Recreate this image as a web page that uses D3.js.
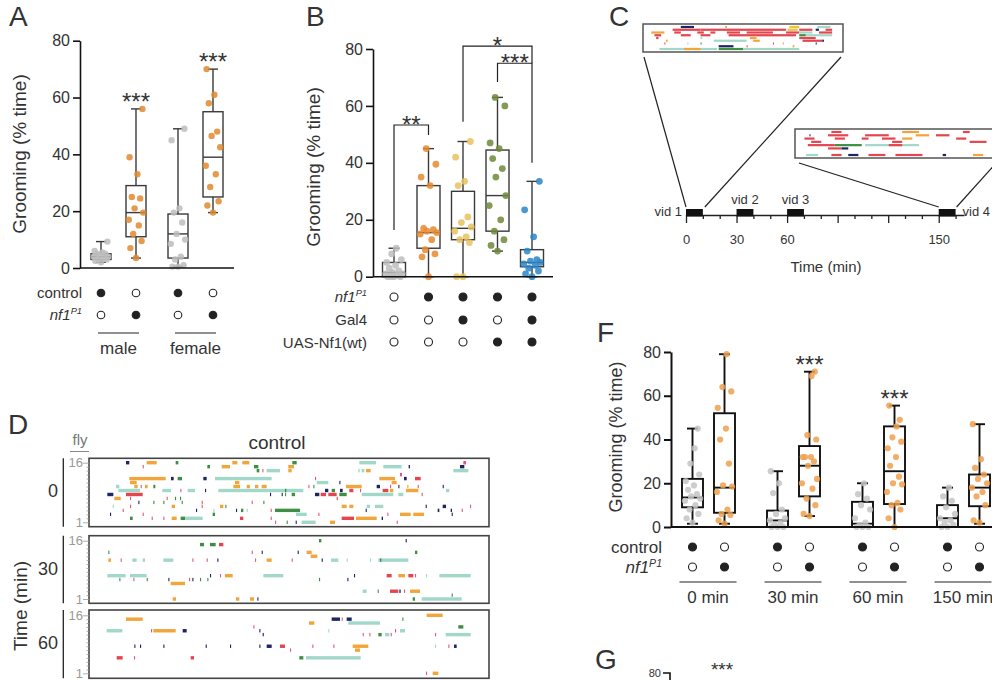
<!DOCTYPE html>
<html>
<head>
<meta charset="utf-8">
<script src="https://cdn.jsdelivr.net/npm/d3@7"></script>
<style>
  body { margin: 0; background: #fff; }
  svg { display: block; }
</style>
</head>
<body>
<svg id="fig" width="992" height="680"></svg>
<script>
// ---------- data ----------
const yTicks = [0, 20, 40, 60, 80]

// Panel A: [min, q1, median, q3, max]
const aGroups = ['male', 'female']
const aBoxes = [[2, 3, 4, 5, 9.3], [3.5, 11, 19.5, 29, 56], [0.5, 3.5, 12, 19, 49], [19.5, 25, 39, 55, 70]]
const aPoints = [
  [2, 2.5, 3, 3, 3.5, 4, 4, 4.5, 5, 5, 5.5, 6, 9.3],
  [3.5, 7, 9.5, 12, 15, 17, 19.5, 21, 24.5, 25, 33, 39, 56],
  [0.5, 0.5, 1, 3, 4, 8.5, 10, 12, 16, 19.5, 21, 45, 49],
  [19.5, 22, 23.5, 28.5, 33, 36, 42.5, 46.5, 48, 58, 61, 70]
]
const aControl = [1, 0, 1, 0]
const aNf1 = [0, 1, 0, 1]
const aStars = ['', '***', '', '***']

// Panel B
const bBoxes = [[0, 0, 1.5, 5, 10], [0, 10, 15.5, 32, 45], [0, 13, 17, 30, 47.5], [9, 16, 28.5, 44.5, 63], [0, 3.5, 5, 9.5, 33.5]]
const bPoints = [
  [0, 0, 0, 0, 0.5, 1, 1, 1.5, 2, 3, 4, 5, 6, 8, 10],
  [0, 7, 8, 9.5, 13, 15, 15.5, 16, 16.5, 17, 32, 35, 39.5, 45],
  [0, 0, 12, 13, 14, 16, 17.5, 19, 21, 32, 33.5, 42, 47.5],
  [9, 11, 13, 16, 20, 25, 28.5, 35, 38, 41.5, 45, 47, 60, 63],
  [0, 1, 2, 3, 4, 4.5, 5, 5.5, 6, 9, 14, 23.5, 33.5]
]
const bNf1 = [0, 1, 1, 1, 1]
const bGal4 = [0, 0, 1, 0, 1]
const bUas = [0, 0, 0, 1, 1]
// brackets: from box a to box b, top level, leg ends, label
const bSig = [
  { a: 0, b: 1, top: 53.3, ya: 16.4, yb: 49.8, label: '**' },
  { a: 2, b: 4, top: 81, ya: 54.4, yb: 75, label: '*' },
  { a: 3, b: 4, top: 75, ya: 68.4, yb: 40, label: '***' }
]

// Panel C: video windows (min)
const cVideos = [['vid 1', 0, 10], ['vid 2', 30, 40], ['vid 3', 60, 70], ['vid 4', 150, 160]]
const cTicks = d3.range(0, 170, 10)
const cMajor = [0, 30, 60, 90, 120, 150]
const cLabels = [0, 30, 60, 150]
// inset rasters: [row, start, end, behaviour]
const cInset1 = [
  [9, 112, 152, 'n'], [9, 247, 252, 'o'], [9, 442, 472, 'y'], [9, 527, 567, 't'],
  [8, 87, 172, 'r'], [8, 172, 432, 'r'], [8, 437, 467, 'y'], [8, 472, 512, 'r'], [8, 522, 532, 'n'], [8, 552, 572, 'r'],
  [7, 22, 62, 'o'], [7, 92, 112, 'r'], [7, 162, 182, 'r'], [7, 202, 217, 'r'], [7, 252, 292, 'r'], [7, 312, 392, 'r'], [7, 432, 472, 'r'], [7, 472, 512, 't'], [7, 532, 572, 'r'],
  [6, 32, 52, 'r'], [6, 112, 142, 'r'], [6, 172, 202, 'r'], [6, 257, 462, 'r'], [6, 472, 492, 'g'], [6, 492, 572, 't'],
  [5, 37, 44, 'r'], [5, 172, 177, 't'], [5, 322, 342, 'o'], [5, 472, 522, 'r'],
  [4, 67, 72, 'o'], [4, 212, 312, 't'], [4, 332, 352, 'o'], [4, 482, 542, 'r'], [4, 542, 547, 'n'],
  [3, 62, 65, 'r'], [3, 132, 135, 't'], [3, 172, 175, 'g'], [3, 392, 395, 'r'], [3, 422, 425, 'o'], [3, 522, 525, 'n'],
  [2, 227, 272, 'n'], [2, 312, 315, 'r'], [2, 452, 457, 'o'],
  [1, 47, 222, 't'], [1, 122, 172, 'o'], [1, 227, 302, 'g'], [1, 302, 472, 't']
]
const cInset2 = [
  [8, 105, 135, 'r'], [8, 315, 365, 'o'], [8, 495, 515, 'r'],
  [7, 40, 43, 'n'], [7, 95, 155, 'r'], [7, 205, 275, 'r'], [7, 355, 395, 'o'], [7, 415, 455, 'r'],
  [6, 25, 55, 'r'], [6, 115, 145, 'r'], [6, 195, 215, 'r'], [6, 255, 295, 'r'], [6, 315, 345, 'o'], [6, 475, 505, 'r'],
  [5, 45, 75, 'r'], [5, 285, 315, 'r'], [5, 515, 565, 'r'],
  [4, 35, 115, 'r'], [4, 115, 195, 'g'], [4, 205, 365, 't'], [4, 275, 315, 'r'],
  [3, 95, 135, 'r'], [3, 135, 155, 'n'],
  [1, 30, 65, 't'], [1, 105, 135, 'r'], [1, 155, 185, 'n'], [1, 215, 265, 'r'], [1, 295, 375, 'r'], [1, 435, 445, 'n'], [1, 525, 555, 'o']
]

// Panel D: ethograms, 16 flies, [fly, start, end, behaviour]
const dTimes = ['0', '30', '60']
const dSeg0 = [
  [16, 111, 121, 'n'], [16, 173, 203, 'o'], [16, 260, 268, 'g'], [16, 430, 445, 'o'], [16, 460, 481, 'o'], [16, 610, 623, 'g'], [16, 811, 861, 't'], [16, 1123, 1131, 'p'],
  [15, 161, 164, 'p'], [15, 355, 363, 'g'], [15, 398, 423, 'o'], [15, 495, 508, 'g'], [15, 598, 615, 'o'], [15, 883, 938, 't'], [15, 959, 963, 'n'], [15, 1113, 1126, 'n'],
  [14, 503, 511, 'g'], [14, 520, 522, 'p'], [14, 533, 573, 't'], [14, 598, 608, 'o'], [14, 808, 812, 't'], [14, 818, 826, 't'], [14, 831, 845, 'o'], [14, 1093, 1138, 't'],
  [13, 933, 939, 'p'],
  [12, 121, 230, 'o'], [12, 246, 254, 'n'], [12, 266, 279, 'g'], [12, 343, 353, 'n'], [12, 378, 548, 't'], [12, 678, 681, 'p'], [12, 871, 918, 'o'], [12, 945, 953, 'n'], [12, 978, 995, 'r'],
  [11, 123, 143, 'o'], [11, 438, 451, 'o'], [11, 683, 718, 't'], [11, 751, 754, 'n'], [11, 908, 923, 'o'],
  [10, 81, 91, 't'], [10, 136, 146, 'o'], [10, 155, 158, 'p'], [10, 168, 176, 'o'], [10, 193, 199, 'g'], [10, 433, 453, 'o'], [10, 473, 483, 'o'], [10, 498, 508, 'o'], [10, 518, 533, 'o'],
  [10, 658, 661, 'p'], [10, 673, 676, 'g'], [10, 771, 818, 'o'], [10, 863, 873, 'n'], [10, 903, 906, 'p'], [10, 928, 931, 'n'], [10, 955, 958, 'o'], [10, 986, 989, 'p'], [10, 1061, 1064, 'n'],
  [9, 88, 153, 't'], [9, 220, 246, 't'], [9, 274, 277, 'p'], [9, 296, 318, 't'], [9, 348, 351, 'n'], [9, 388, 643, 't'], [9, 588, 592, 'g'], [9, 708, 718, 'n'], [9, 728, 738, 'g'],
  [9, 753, 761, 'n'], [9, 781, 793, 'r'], [9, 813, 816, 'p'], [9, 881, 898, 'r'], [9, 903, 913, 'o'], [9, 951, 988, 'o'], [9, 1071, 1081, 't'],
  [8, 55, 73, 'n'], [8, 111, 161, 'r'], [8, 543, 546, 'n'], [8, 578, 581, 'n'], [8, 588, 591, 'g'], [8, 608, 618, 'g'], [8, 678, 691, 'n'], [8, 695, 711, 'r'], [8, 718, 743, 'r'],
  [8, 751, 773, 'g'], [8, 818, 913, 't'], [8, 928, 943, 't'], [8, 998, 1001, 'p'],
  [7, 76, 95, 'o'], [7, 123, 126, 'p'], [7, 233, 236, 'p'], [7, 258, 261, 'g'], [7, 273, 276, 'g'], [7, 743, 746, 'r'],
  [6, 148, 151, 'n'], [6, 193, 196, 'g'], [6, 223, 226, 'g'], [6, 278, 281, 'g'], [6, 338, 341, 'p'], [6, 488, 491, 'p'], [6, 523, 526, 'g'],
  [5, 71, 74, 't'], [5, 123, 126, 'p'], [5, 248, 258, 'o'], [5, 338, 341, 'p'], [5, 393, 403, 'o'], [5, 409, 412, 'g'], [5, 758, 773, 'o'], [5, 781, 793, 'o'],
  [5, 833, 843, 't'], [5, 858, 883, 't'], [5, 1010, 1013, 'n'], [5, 1061, 1071, 'n'], [5, 1143, 1146, 'p'],
  [4, 101, 104, 'p'], [4, 321, 324, 'n'], [4, 373, 376, 't'], [4, 441, 444, 'n'], [4, 456, 463, 'g'], [4, 473, 476, 't'], [4, 545, 548, 'p'], [4, 558, 633, 'g'],
  [4, 830, 833, 'n'], [4, 1046, 1051, 'n'], [4, 1085, 1089, 'n'], [4, 1118, 1121, 'p'],
  [3, 63, 66, 'n'], [3, 161, 164, 'p'], [3, 371, 378, 'g'], [3, 621, 653, 't'], [3, 688, 691, 'p'], [3, 895, 898, 'p'], [3, 933, 965, 'o'], [3, 973, 1005, 'o'], [3, 1088, 1091, 'n'],
  [2, 123, 131, 'g'], [2, 188, 191, 'p'], [2, 223, 226, 'p'], [2, 248, 263, 'o'], [2, 275, 289, 'g'], [2, 289, 341, 't'], [2, 453, 463, 'r'], [2, 545, 548, 'p'],
  [2, 758, 795, 'r'], [2, 801, 863, 'o'], [2, 878, 882, 'n'],
  [1, 558, 561, 'p'], [1, 593, 596, 'g'], [1, 620, 623, 'n'], [1, 638, 680, 't'], [1, 723, 738, 'o'], [1, 923, 926, 'p']
]
const dSeg30 = [
  [16, 690, 697, 'g'], [16, 950, 953, 'n'],
  [15, 333, 345, 'g'], [15, 363, 380, 'g'], [15, 390, 403, 'r'],
  [13, 58, 61, 'g'], [13, 488, 491, 'p'], [13, 518, 521, 'n'], [13, 626, 629, 'n'], [13, 653, 668, 'o'], [13, 978, 985, 'g'],
  [12, 665, 685, 'o'],
  [11, 58, 66, 'o'], [11, 95, 98, 'p'], [11, 130, 143, 't'], [11, 161, 168, 't'], [11, 223, 253, 't'], [11, 310, 313, 'p'], [11, 353, 356, 'p'], [11, 385, 388, 'n'],
  [11, 498, 501, 'p'], [11, 533, 548, 'o'], [11, 608, 611, 'p'], [11, 698, 701, 'n'], [11, 726, 748, 't'], [11, 773, 776, 't'], [11, 843, 846, 't'], [11, 868, 958, 't'], [11, 873, 877, 'g'],
  [7, 55, 110, 't'], [7, 123, 173, 't'], [7, 363, 366, 'n'], [7, 393, 396, 'p'], [7, 408, 431, 'o'], [7, 523, 583, 't'], [7, 795, 798, 'n'], [7, 893, 908, 'r'],
  [7, 928, 948, 'o'], [7, 958, 973, 'r'], [7, 978, 981, 'p'], [7, 1011, 1014, 't'], [7, 1051, 1145, 't'],
  [6, 91, 94, 'g'], [6, 133, 136, 'p'], [6, 173, 176, 'g'], [6, 238, 241, 'n'], [6, 300, 303, 'p'], [6, 310, 313, 'n'], [6, 333, 336, 'g'], [6, 355, 358, 'g'], [6, 690, 693, 'g'], [6, 775, 778, 'n'],
  [5, 245, 288, 'o'],
  [3, 821, 833, 't'], [3, 866, 869, 'g'], [3, 903, 928, 'r'], [3, 931, 935, 'n'], [3, 945, 948, 'p'], [3, 963, 993, 'o'],
  [2, 1088, 1091, 'g'],
  [1, 251, 261, 'o'], [1, 441, 451, 'o'], [1, 483, 495, 'o'], [1, 505, 508, 'n'], [1, 971, 978, 'g'], [1, 998, 1118, 't']
]
const dSeg60 = [
  [16, 1013, 1061, 'o'],
  [15, 111, 161, 'o'], [15, 728, 753, 'n'], [15, 758, 761, 'p'], [15, 773, 788, 'n'], [15, 940, 943, 'g'],
  [14, 660, 676, 'o'], [14, 778, 873, 't'],
  [13, 493, 496, 'p'], [13, 1108, 1123, 'g'],
  [12, 53, 100, 't'], [12, 186, 189, 'p'], [12, 193, 260, 'o'], [12, 281, 293, 'n'], [12, 511, 514, 'n'], [12, 718, 721, 't'], [12, 918, 921, 'p'], [12, 933, 948, 't'],
  [11, 521, 524, 'n'], [11, 821, 824, 'p'], [11, 841, 844, 'p'], [11, 868, 878, 'g'], [11, 888, 901, 't'], [11, 905, 908, 'p'], [11, 1038, 1041, 'p'], [11, 1070, 1145, 't'],
  [8, 136, 139, 'n'], [8, 153, 156, 'n'], [8, 223, 226, 'n'], [8, 350, 353, 'n'], [8, 423, 426, 'n'], [8, 511, 514, 'n'], [8, 533, 548, 'n'], [8, 573, 588, 'r'],
  [8, 670, 673, 'p'], [8, 733, 736, 'p'], [8, 791, 838, 'o'], [8, 1038, 1041, 't'], [8, 1078, 1081, 'p'], [8, 1095, 1103, 'n'],
  [7, 603, 606, 'p'], [7, 798, 813, 'o'],
  [5, 83, 101, 'r'], [5, 135, 138, 'p'], [5, 305, 315, 'r'], [5, 631, 643, 'g'], [5, 651, 815, 't'],
  [1, 1011, 1014, 'p'], [1, 1031, 1048, 'o']
]

// Panel F
const fGroups = ['0 min', '30 min', '60 min', '150 min']
const fBoxes = [
  [1.5, 9, 13.5, 22, 45], [1.5, 6.5, 18, 52, 79],
  [0, 0, 3, 7.5, 25.5], [5, 14, 28, 37, 71],
  [0, 0, 1.5, 11.5, 20], [0, 10.5, 25.5, 46, 55.5],
  [0, 0, 4, 10, 18], [1.5, 9.5, 18, 24, 47]
]
const fPoints = [
  [2, 4, 6, 8, 10, 12, 13, 14, 15, 17, 19, 21, 24, 29, 36, 45],
  [1.5, 3, 5.5, 6, 8, 16, 18.5, 19, 29, 40, 45, 54.5, 62, 64, 79],
  [0, 0, 0, 1, 2, 3, 4, 6, 8, 15.5, 20, 25.5],
  [5, 6, 10, 13, 17.5, 20, 22, 28, 30, 32, 32, 32, 40, 42, 69, 71],
  [0, 0, 0, 1, 2, 4, 8, 10, 13, 15, 20],
  [0, 4, 8, 10, 11, 16, 19.5, 20, 23, 28, 32, 36, 39, 41, 46, 49, 55.5],
  [0, 0, 1, 2, 3, 4, 6, 9, 12, 14, 18],
  [2, 3, 10, 14, 16, 18, 20, 22, 24, 27, 31, 47]
]
const fControl = [1, 0, 1, 0, 1, 0, 1, 0]
const fNf1 = [0, 1, 0, 1, 0, 1, 0, 1]
const fStars = ['', '', '', '***', '', '***', '', '']

// ---------- drawing ----------
const FONT = "Arial, 'Liberation Sans', Helvetica, sans-serif"
const TXT = '#333'
const behaviourColor = { o: '#f2a53a', t: '#a2d8c9', g: '#3e8e44', n: '#1e2464', r: '#e3464f', p: '#dd5b76', y: '#e9c43c' }
const jitter = [0, -0.28, 0.28, -0.14, 0.14, -0.36, 0.36, -0.07, 0.21, -0.21, 0.07, -0.32, 0.32, -0.1, 0.1, 0.25, -0.25]

const svg = d3.select('#fig').attr('font-family', FONT)
svg.append('rect').attr('width', 992).attr('height', 680).attr('fill', '#fff')

function letter(x, y, s) {
  svg.append('text').attr('x', x).attr('y', y).attr('font-size', 28).attr('fill', TXT).text(s)
}

function yAxis(y, x, fs, sw) {
  const ax = svg.append('g').attr('transform', `translate(${x},0)`)
    .call(d3.axisLeft(y).tickValues(yTicks).tickSize(7).tickPadding(3).tickSizeOuter(0))
  ax.attr('font-family', FONT).attr('font-size', fs)
  ax.select('.domain').attr('stroke', '#111').attr('stroke-width', sw)
  ax.selectAll('.tick line').attr('stroke', '#111').attr('stroke-width', sw)
  ax.selectAll('.tick text').attr('fill', TXT)
}

function yTitle(x, y, fs) {
  svg.append('text').attr('transform', `translate(${x},${y}) rotate(-90)`)
    .attr('text-anchor', 'middle').attr('font-size', fs).attr('fill', TXT).text('Grooming (% time)')
}

function drawBoxes(y, xs, boxes, points, colors, o) {
  boxes.forEach((b, i) => {
    const [lo, q1, med, q3, hi] = b
    const x = xs[i]
    const g = svg.append('g').attr('stroke', o.stroke).attr('stroke-width', o.sw).attr('fill', 'none')
    g.append('line').attr('x1', x).attr('x2', x).attr('y1', y(lo)).attr('y2', y(q1))
    g.append('line').attr('x1', x).attr('x2', x).attr('y1', y(q3)).attr('y2', y(hi))
    ;[lo, hi].forEach(v => g.append('line').attr('x1', x - o.cap / 2).attr('x2', x + o.cap / 2).attr('y1', y(v)).attr('y2', y(v)))
    g.append('rect').attr('x', x - o.bw / 2).attr('y', y(q3)).attr('width', o.bw).attr('height', y(q1) - y(q3))
    g.append('line').attr('x1', x - o.bw / 2).attr('x2', x + o.bw / 2).attr('y1', y(med)).attr('y2', y(med))
    const pts = points[i].slice().sort((p, q) => p - q)
    svg.append('g').selectAll('circle').data(pts).join('circle')
      .attr('cx', (d, j) => x + jitter[j % jitter.length] * o.bw)
      .attr('cy', d => y(d))
      .attr('r', o.r)
      .attr('fill', colors[i])
      .attr('fill-opacity', 0.85)
  })
}

function dotRow(xs, vals, cy, r) {
  svg.append('g').selectAll('circle').data(vals).join('circle')
    .attr('cx', (d, i) => xs[i]).attr('cy', cy).attr('r', r)
    .attr('fill', d => d ? '#222' : '#fff').attr('stroke', '#222').attr('stroke-width', 1.1)
}

function rowLabel(x, y, s, fs) {
  svg.append('text').attr('x', x).attr('y', y).attr('text-anchor', 'end').attr('font-size', fs).attr('fill', TXT).text(s)
}

function nf1Label(x, y, fs) {
  const t = svg.append('text').attr('x', x).attr('y', y).attr('text-anchor', 'end')
    .attr('font-size', fs).attr('font-style', 'italic').attr('fill', TXT)
  t.append('tspan').text('nf1')
  t.append('tspan').attr('dy', -fs * 0.38).attr('font-size', fs * 0.62).text('P1')
}

function stars(x, yb, s, fs = 24) {
  svg.append('text').attr('x', x).attr('y', yb).attr('text-anchor', 'middle')
    .attr('font-size', fs).attr('fill', TXT).text(s)
}

// ===== A =====
letter(9, 26, 'A')
const aY = d3.scaleLinear().domain([0, 80]).range([268, 40.7])
const aOuter = d3.scaleBand().domain(aGroups).range([80, 234])
const aX = aBoxes.map((d, i) => aOuter(aGroups[Math.floor(i / 2)]) + aOuter.bandwidth() / 2 + (i % 2 === 0 ? -17.5 : 17.5))
drawBoxes(aY, aX, aBoxes, aPoints, aNf1.map(v => v ? '#e18a2e' : '#bdbdbd'), { bw: 20, cap: 10, r: 3.2, stroke: '#3a3a3a', sw: 1.4 })
yAxis(aY, 80, 16, 1.6)
svg.append('line').attr('x1', 80).attr('x2', 234).attr('y1', aY(0)).attr('y2', aY(0)).attr('stroke', '#111').attr('stroke-width', 1.6)
aStars.forEach((s, i) => { if (s) stars(aX[i], aY(aBoxes[i][4]) + 1, s) })
yTitle(26, 154, 19)
rowLabel(82, 298, 'control', 15)
nf1Label(82, 320, 15)
dotRow(aX, aControl, 293, 3.8)
dotRow(aX, aNf1, 315, 3.8)
aGroups.forEach((g, k) => {
  const x0 = aX[k * 2] - 3, x1 = aX[k * 2 + 1] + 3
  svg.append('line').attr('x1', x0).attr('x2', x1).attr('y1', 333).attr('y2', 333).attr('stroke', '#222').attr('stroke-width', 1.2)
  svg.append('text').attr('x', (x0 + x1) / 2).attr('y', 354).attr('text-anchor', 'middle').attr('font-size', 17).attr('fill', TXT).text(g)
})

// ===== B =====
letter(306, 26, 'B')
const bY = d3.scaleLinear().domain([0, 80]).range([276.7, 49])
const bX0 = d3.scalePoint().domain(d3.range(bBoxes.length)).range([394, 532])
const bX = bBoxes.map((d, i) => bX0(i))
drawBoxes(bY, bX, bBoxes, bPoints, ['#bdbdbd', '#e8892f', '#e6c35e', '#6e8a3a', '#2b86c8'], { bw: 23, cap: 11, r: 3.4, stroke: '#3a3a3a', sw: 1.4 })
yAxis(bY, 373, 16, 1.6)
svg.append('line').attr('x1', 373).attr('x2', 553).attr('y1', bY(0)).attr('y2', bY(0)).attr('stroke', '#111').attr('stroke-width', 1.6)
bSig.forEach(s => {
  const xa = bX[s.a], xb = bX[s.b]
  svg.append('path')
    .attr('d', `M${xa},${bY(s.ya)}V${bY(s.top)}H${xb}V${bY(s.yb)}`)
    .attr('fill', 'none').attr('stroke', '#222').attr('stroke-width', 1.2)
  stars((xa + xb) / 2, bY(s.top) + 8, s.label)
})
yTitle(320, 167, 19)
nf1Label(367, 302, 15)
rowLabel(367, 325, 'Gal4', 15)
rowLabel(367, 348, 'UAS-Nf1(wt)', 15)
dotRow(bX, bNf1, 297, 4)
dotRow(bX, bGal4, 320, 4)
dotRow(bX, bUas, 342, 4)

// ===== C =====
letter(609, 26, 'C')
const cX = d3.scaleLinear().domain([0, 165]).range([686, 964])
const cAxisY = 215
// insets
function inset(x0, x1, y0, y1, rows, segs) {
  const sx = d3.scaleLinear().domain([0, 602]).range([x0 + 1, x1 - 1])
  const sy = d3.scaleLinear().domain([1, rows]).range([y1 - 3, y0 + 3])
  svg.append('g').selectAll('rect').data(segs).join('rect')
    .attr('x', d => sx(d[1])).attr('width', d => Math.max(1, sx(d[2]) - sx(d[1])))
    .attr('y', d => sy(d[0]) - 1.1).attr('height', 2.2)
    .attr('fill', d => behaviourColor[d[3]])
  svg.append('rect').attr('x', x0).attr('y', y0).attr('width', x1 - x0).attr('height', y1 - y0)
    .attr('fill', 'none').attr('stroke', '#555').attr('stroke-width', 1.5)
}
inset(643, 843, 24, 52, 9, cInset1)
inset(795, 1000, 129, 158, 8, cInset2)
const cLines = svg.append('g').attr('stroke', '#222').attr('stroke-width', 1.2)
cLines.append('line').attr('x1', 644).attr('y1', 57).attr('x2', cX(0)).attr('y2', 207)
cLines.append('line').attr('x1', 841).attr('y1', 57).attr('x2', cX(10) + 2).attr('y2', 207)
cLines.append('line').attr('x1', 799).attr('y1', 163).attr('x2', cX(150)).attr('y2', 207)
cLines.append('line').attr('x1', 998).attr('y1', 161).attr('x2', cX(160) + 1).attr('y2', 207)
const cAx = svg.append('g').attr('transform', `translate(0,${cAxisY})`)
  .call(d3.axisBottom(cX).tickValues(cTicks).tickSize(4).tickPadding(16).tickSizeOuter(0)
    .tickFormat(d => cLabels.includes(d) ? d : ''))
cAx.attr('font-family', FONT).attr('font-size', 13)
cAx.select('.domain').attr('stroke', '#222').attr('stroke-width', 1.6)
cAx.selectAll('.tick line').attr('stroke', '#222').attr('stroke-width', 1.3)
  .attr('y2', d => cMajor.includes(d) ? 8 : 4)
cAx.selectAll('.tick text').attr('fill', TXT)
svg.append('g').selectAll('rect').data(cVideos).join('rect')
  .attr('x', d => cX(d[1])).attr('width', d => cX(d[2]) - cX(d[1]))
  .attr('y', 209).attr('height', 7.5).attr('fill', '#111')
cVideos.forEach((v, i) => {
  const t = svg.append('text').attr('font-size', 13).attr('fill', TXT).text(v[0])
  if (i === 0) t.attr('x', cX(v[1]) - 4).attr('y', 216).attr('text-anchor', 'end')
  else if (i === cVideos.length - 1) t.attr('x', cX(v[2]) + 7).attr('y', 216)
  else t.attr('x', (cX(v[1]) + cX(v[2])) / 2).attr('y', 204).attr('text-anchor', 'middle')
})
svg.append('text').attr('x', 826).attr('y', 272).attr('text-anchor', 'middle').attr('font-size', 15).attr('fill', TXT).text('Time (min)')

// ===== D =====
letter(8, 434, 'D')
svg.append('text').attr('x', 80).attr('y', 445).attr('text-anchor', 'middle').attr('font-size', 15).attr('fill', '#777').text('fly')
svg.append('line').attr('x1', 70).attr('x2', 89).attr('y1', 451.5).attr('y2', 451.5).attr('stroke', '#888').attr('stroke-width', 1)
svg.append('text').attr('x', 277).attr('y', 449).attr('text-anchor', 'middle').attr('font-size', 19).attr('fill', TXT).text('control')
const dX = d3.scaleLinear().domain([0, 1200]).range([89, 489])
const dLayout = [
  { top: 458.3, bottom: 526.7, r16: 462.7, r1: 522.3, segs: dSeg0, ly: 497 },
  { top: 535.7, bottom: 603.3, r16: 540.7, r1: 599, segs: dSeg30, ly: 575 },
  { top: 610, bottom: 678.3, r16: 615.3, r1: 673.3, segs: dSeg60, ly: 649 }
]
dLayout.forEach((p, k) => {
  const ry = d3.scaleLinear().domain([1, 16]).range([p.r1, p.r16])
  svg.append('g').selectAll('rect').data(p.segs).join('rect')
    .attr('x', d => dX(d[1])).attr('width', d => Math.max(1.1, dX(d[2]) - dX(d[1])))
    .attr('y', d => ry(d[0]) - 1.7).attr('height', 3.4)
    .attr('fill', d => behaviourColor[d[3]])
  svg.append('rect').attr('x', 89).attr('y', p.top).attr('width', 400).attr('height', p.bottom - p.top)
    .attr('fill', 'none').attr('stroke', '#444').attr('stroke-width', 1.6)
  const ax = svg.append('g').attr('transform', 'translate(89,0)')
    .call(d3.axisLeft(ry).tickValues(d3.range(1, 17)).tickSize(2.5).tickSizeOuter(0).tickFormat(d => (d === 1 || d === 16) ? d : ''))
  ax.attr('font-family', FONT).attr('font-size', 13)
  ax.select('.domain').remove()
  ax.selectAll('.tick line').attr('stroke', '#999').attr('stroke-width', 0.8).attr('x2', d => (d === 1 || d === 16) ? -6 : -2.5)
  ax.selectAll('.tick text').attr('fill', '#999').attr('x', -6)
  svg.append('line').attr('x1', 63.3).attr('x2', 63.3).attr('y1', p.top).attr('y2', p.bottom).attr('stroke', '#222').attr('stroke-width', 1.3)
  svg.append('text').attr('x', 58).attr('y', p.ly).attr('text-anchor', 'end').attr('font-size', 18).attr('fill', TXT).text(dTimes[k])
})
svg.append('text').attr('transform', 'translate(27,606) rotate(-90)').attr('text-anchor', 'middle')
  .attr('font-size', 19).attr('fill', TXT).text('Time (min)')

// ===== F =====
letter(597, 342, 'F')
const fY = d3.scaleLinear().domain([0, 80]).range([527, 352])
const fOuter = d3.scaleBand().domain(fGroups).range([666, 1006])
const fX = fBoxes.map((d, i) => fOuter(fGroups[Math.floor(i / 2)]) + fOuter.bandwidth() / 2 + (i % 2 === 0 ? -16 : 16))
drawBoxes(fY, fX, fBoxes, fPoints, fNf1.map(v => v ? '#eea04f' : '#c4c4c4'), { bw: 21, cap: 11, r: 3.1, stroke: '#111', sw: 1.9 })
yAxis(fY, 671, 16, 2)
svg.append('line').attr('x1', 671).attr('x2', 992).attr('y1', fY(0)).attr('y2', fY(0)).attr('stroke', '#111').attr('stroke-width', 2)
fStars.forEach((s, i) => { if (s) stars(fX[i], fY(fBoxes[i][4]) + 1.5, s) })
yTitle(622, 437, 18)
rowLabel(662, 553, 'control', 17)
nf1Label(662, 573, 17)
dotRow(fX, fControl, 547, 4)
dotRow(fX, fNf1, 567, 4)
fGroups.forEach((g, k) => {
  const x0 = fX[k * 2] - 13, x1 = fX[k * 2 + 1] + 12
  svg.append('line').attr('x1', x0).attr('x2', x1).attr('y1', 582).attr('y2', 582).attr('stroke', '#222').attr('stroke-width', 1.2)
  svg.append('text').attr('x', (x0 + x1) / 2).attr('y', 603).attr('text-anchor', 'middle').attr('font-size', 17).attr('fill', TXT).text(g)
})

// ===== G (cut off at the bottom) =====
letter(595, 669, 'G')
svg.append('text').attr('x', 661).attr('y', 677).attr('text-anchor', 'end').attr('font-size', 11).attr('fill', TXT).text('80')
svg.append('path').attr('d', 'M663,673H670V690').attr('fill', 'none').attr('stroke', '#111').attr('stroke-width', 1.6)
stars(722, 676, '***', 19)
</script>
</body>
</html>
